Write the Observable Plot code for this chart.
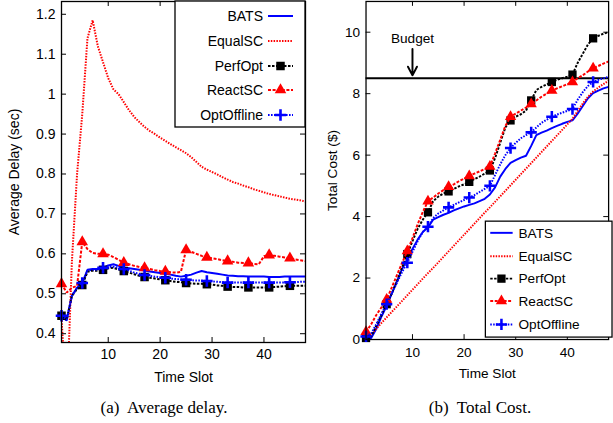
<!DOCTYPE html>
<html><head><meta charset="utf-8">
<script src="https://cdn.jsdelivr.net/npm/d3@7"></script>
<script src="https://cdn.jsdelivr.net/npm/@observablehq/plot@0.6"></script>
<style>
body{margin:0;background:#fff;width:613px;height:423px;overflow:hidden;position:relative;font-family:"Liberation Sans",Arial,sans-serif}
#a,#b{position:absolute;top:0}
#a{left:0}#b{left:310px}
.cap{position:absolute;top:397px;line-height:22px;font-family:"Liberation Serif","Times New Roman",serif;font-size:17px;white-space:pre;transform:translateX(-50%)}
</style></head><body>
<div id="a"></div><div id="b"></div>
<div class="cap" style="left:164px">(a)  Average delay.</div>
<div class="cap" style="left:480px">(b)  Total Cost.</div>
<script>
const slots = [1,2,3,4,5,6,7,8,9,10,11,12,13,14,15,16,17,18,19,20,21,22,23,24,25,26,27,28,29,30,31,32,33,34,35,36,37,38,39,40,41,42,43,44,45,46,47,48];
const series = ["BATS","EqualSC","PerfOpt","ReactSC","OptOffline"];

// (a) Average delay (sec)
const delayBATS = [0.443,0.433,0.495,0.515,0.527,0.56,0.562,0.562,0.565,0.571,0.574,0.57,0.566,0.564,0.562,0.56,0.558,0.556,0.554,0.552,0.55,0.548,0.545,0.543,0.545,0.548,0.553,0.557,0.554,0.552,0.55,0.548,0.546,0.545,0.544,0.544,0.543,0.543,0.543,0.543,0.542,0.542,0.542,0.543,0.543,0.543,0.543,0.543];
const delayEqualSC = [0.44,0.22,0.58,0.8,0.95,1.14,1.185,1.12,1.08,1.04,1.012,1.0,0.98,0.96,0.943,0.93,0.918,0.908,0.9,0.891,0.883,0.875,0.867,0.86,0.852,0.842,0.83,0.818,0.811,0.805,0.799,0.792,0.786,0.78,0.776,0.771,0.767,0.762,0.758,0.754,0.75,0.747,0.744,0.741,0.738,0.736,0.734,0.731];
const delayPerfOpt = [0.445,0.435,0.495,0.512,0.522,0.555,0.558,0.558,0.56,0.564,0.565,0.561,0.557,0.553,0.549,0.545,0.542,0.54,0.538,0.536,0.534,0.532,0.53,0.529,0.527,0.526,0.525,0.525,0.524,0.523,0.521,0.52,0.518,0.517,0.517,0.516,0.516,0.516,0.516,0.516,0.516,0.517,0.518,0.519,0.52,0.52,0.52,0.52];
const delayReactSC = [0.525,0.503,0.515,0.52,0.63,0.612,0.602,0.6,0.6,0.598,0.592,0.585,0.578,0.574,0.57,0.567,0.565,0.562,0.559,0.557,0.556,0.554,0.553,0.555,0.61,0.605,0.6,0.595,0.591,0.589,0.587,0.584,0.582,0.58,0.578,0.577,0.577,0.575,0.574,0.594,0.597,0.595,0.593,0.591,0.589,0.586,0.584,0.582];
const delayOptOffline = [0.445,0.435,0.495,0.515,0.527,0.558,0.56,0.56,0.565,0.568,0.568,0.565,0.562,0.558,0.553,0.55,0.547,0.545,0.543,0.541,0.54,0.538,0.537,0.536,0.535,0.534,0.533,0.533,0.532,0.531,0.53,0.529,0.528,0.528,0.528,0.528,0.528,0.528,0.528,0.528,0.528,0.528,0.528,0.528,0.529,0.529,0.53,0.53];

// (b) Total cost ($)
const costBATS = [0.0,0.05,0.35,0.75,1.1,1.5,1.9,2.3,2.62,2.95,3.25,3.5,3.65,3.9,3.98,4.06,4.12,4.2,4.27,4.33,4.38,4.43,4.5,4.58,4.72,4.95,5.3,5.55,5.75,5.84,5.92,5.98,6.3,6.65,6.73,6.8,6.88,6.95,7.02,7.08,7.13,7.35,7.6,7.85,8.02,8.1,8.17,8.22];
const costEqualSC = [0.0,0.17,0.35,0.54,0.72,0.9,1.08,1.26,1.44,1.62,1.8,1.98,2.16,2.33,2.51,2.69,2.87,3.05,3.23,3.41,3.59,3.77,3.95,4.13,4.3,4.48,4.66,4.84,5.02,5.2,5.38,5.56,5.74,5.92,6.1,6.28,6.46,6.64,6.82,7.0,7.18,7.43,7.68,7.9,8.07,8.2,8.31,8.42];
const costPerfOpt = [0.05,0.1,0.45,0.8,1.15,1.5,1.9,2.35,2.78,3.2,3.6,3.9,4.14,4.5,4.65,4.75,4.82,4.9,4.98,5.05,5.13,5.22,5.3,5.4,5.5,5.9,6.4,6.9,7.13,7.25,7.33,7.45,7.78,8.12,8.22,8.3,8.38,8.45,8.5,8.55,8.62,9.0,9.3,9.6,9.8,9.88,9.95,10.0];
const costReactSC = [0.25,0.5,0.8,1.05,1.3,1.7,2.1,2.5,2.88,3.3,3.75,4.15,4.5,4.62,4.75,4.86,4.97,5.05,5.15,5.24,5.32,5.4,5.47,5.55,5.63,6.05,6.5,6.95,7.25,7.35,7.45,7.55,7.66,7.78,7.9,8.0,8.1,8.17,8.24,8.31,8.38,8.5,8.6,8.72,8.83,8.9,8.98,9.05];
const costOptOffline = [0.1,0.2,0.5,0.85,1.15,1.5,1.85,2.2,2.5,2.85,3.2,3.5,3.67,3.95,4.1,4.2,4.3,4.38,4.46,4.54,4.62,4.7,4.8,4.9,5.0,5.35,5.7,6.0,6.23,6.4,6.55,6.65,6.74,6.9,7.05,7.15,7.25,7.32,7.38,7.44,7.5,7.8,8.05,8.25,8.38,8.45,8.5,8.55];

const budget = 8.5;
const budgetNote = [{slot: 10, label: "Budget", labelY: 9.78, arrowTop: 9.45}];

const xTicks = [10,20,30,40];
const delayTicks = [0.4,0.5,0.6,0.7,0.8,0.9,1.0,1.1,1.2];
const costTicks = [0,2,4,6,8,10];

const style = {
  BATS:       {stroke:"#0000ff", dash:null,      symbol:null},
  EqualSC:    {stroke:"#ff0000", dash:"1.5,1.3", symbol:null},
  PerfOpt:    {stroke:"#000000", dash:"2.5,1.5", symbol:"square"},
  ReactSC:    {stroke:"#ff0000", dash:"3,1.6",   symbol:"triangle"},
  OptOffline: {stroke:"#0000ff", dash:"1.6,1.4", symbol:"plus"}
};
const symR = {square: 4.8, triangle: 4.3, plus: 3.8};

function rows(vals){
  return series.flatMap((s,i)=> slots.map((t,j)=>({s, t, v: vals[i][j]})));
}

function seriesMarks(data){
  const marks = [];
  for (const s of series) {
    const st = style[s];
    const d = data.filter(r => r.s === s);
    marks.push(Plot.line(d, {x:"t", y:"v", stroke: st.stroke, strokeWidth: 2, strokeDasharray: st.dash, strokeLinejoin:"miter", strokeLinecap:"butt", clip:true}));
    if (st.symbol) {
      const m = d.filter(r => r.t % 4 === 1);
      if (st.symbol === "plus")
        marks.push(Plot.dot(m, {x:"t", y:"v", symbol:"plus", r: symR.plus, stroke: st.stroke, strokeWidth: 2.6, fill:"none"}));
      else
        marks.push(Plot.dot(m, {x:"t", y:"v", symbol: st.symbol, r: symR[st.symbol], fill: st.stroke, stroke:"none"}));
    }
  }
  return marks;
}

function frameTicks(yTicks, pw, ph){
  return [
    Plot.tickY(yTicks, {y: d=>d, insetRight: pw-5, stroke:"#000"}),
    Plot.tickY(yTicks, {y: d=>d, insetLeft: pw-5, stroke:"#000"}),
    Plot.tickX(xTicks, {x: d=>d, insetTop: ph-5, stroke:"#000"}),
    Plot.tickX(xTicks, {x: d=>d, insetBottom: ph-5, stroke:"#000"})
  ];
}

const dsym = {square: d3.symbolSquare, triangle: d3.symbolTriangle, plus: d3.symbolPlus};
function legend(svg, box, lineX0, lineX1, textX, anchor, ys){
  const g = d3.select(svg).append("g");
  g.append("rect").attr("x", box[0]).attr("y", box[1]).attr("width", box[2]).attr("height", box[3])
    .attr("fill","white").attr("stroke","#000").attr("stroke-width",1.3);
  series.forEach((s,i)=>{
    const st = style[s], y = ys[i];
    g.append("line").attr("x1",lineX0).attr("x2",lineX1).attr("y1",y).attr("y2",y)
      .attr("stroke",st.stroke).attr("stroke-width",2).attr("stroke-dasharray",st.dash);
    if (st.symbol){
      const r = symR[st.symbol];
      const p = g.append("path").attr("transform",`translate(${(lineX0+lineX1)/2},${y})`)
        .attr("d", d3.symbol(dsym[st.symbol], Math.PI*r*r)());
      if (st.symbol==="plus") p.attr("fill","none").attr("stroke",st.stroke).attr("stroke-width",2.6);
      else p.attr("fill",st.stroke);
    }
    g.append("text").attr("x",textX).attr("y",y).attr("dy","0.35em").attr("text-anchor",anchor)
      .attr("font-size",14).attr("fill","#000").text(s);
  });
}

const font = {fontFamily:'"Liberation Sans", Arial, sans-serif', fontSize:"14px", background:"transparent", overflow:"visible"};

// Panel (a)
{
  const W=310,H=390,ml=61,mr=5,mt=1,mb=48;
  const pw=W-ml-mr, ph=H-mt-mb;
  const p = Plot.plot({
    width:W, height:H, marginLeft:ml, marginRight:mr, marginTop:mt, marginBottom:mb,
    style: font,
    x:{domain:[1,48]}, y:{domain:[0.378,1.232]},
    marks:[
      Plot.axisX(xTicks,{tickSize:0, tickPadding:7, fontSize:14, label:null}),
      Plot.axisY(delayTicks,{tickSize:0, tickPadding:6, fontSize:14, label:null, tickFormat:d=>String(+d.toFixed(1))}),
      ...seriesMarks(rows([delayBATS,delayEqualSC,delayPerfOpt,delayReactSC,delayOptOffline])),
      ...frameTicks(delayTicks,pw,ph),
      Plot.frame({stroke:"#000", strokeWidth:1.3}),
      Plot.text(["Average Delay (sec)"],{frameAnchor:"left", dx:-47, rotate:-90, textAnchor:"middle", lineAnchor:"middle", fontSize:14}),
      Plot.text(["Time Slot"],{frameAnchor:"bottom", dy:35, textAnchor:"middle", lineAnchor:"middle", fontSize:14})
    ]
  });
  document.getElementById("a").append(p);
  legend(p, [175,1,130,126], 268, 293, 263, "end", [16,41,66,90,115]);
}

// Panel (b)
{
  const W=311,H=390,ml=57,mr=5,mt=1,mb=42;
  const pw=W-ml-mr, ph=H-mt-mb;
  const p = Plot.plot({
    width:W, height:H, marginLeft:ml, marginRight:mr, marginTop:mt, marginBottom:mb,
    style: font,
    x:{domain:[1,48]}, y:{domain:[0,11]},
    marks:[
      Plot.axisX(xTicks,{tickSize:0, tickPadding:8, fontSize:14, label:null}),
      Plot.axisY(costTicks,{tickSize:0, tickPadding:6, fontSize:14, label:null}),
      Plot.ruleY([budget],{stroke:"#000", strokeWidth:2}),
      ...seriesMarks(rows([costBATS,costEqualSC,costPerfOpt,costReactSC,costOptOffline])),
      Plot.text(budgetNote,{x:"slot", y:"labelY", text:"label", fontSize:14}),
      Plot.arrow(budgetNote,{x1:"slot", x2:"slot", y1:"arrowTop", y2:()=>budget, stroke:"#000", strokeWidth:2, headLength:9, headAngle:55, insetEnd:3}),
      ...frameTicks(costTicks,pw,ph),
      Plot.frame({stroke:"#000", strokeWidth:1.3}),
      Plot.text(["Total Cost ($)"],{frameAnchor:"left", dx:-34, rotate:-90, textAnchor:"middle", lineAnchor:"middle", fontSize:14}),
      Plot.text(["Time Slot"],{frameAnchor:"bottom", dy:35, textAnchor:"middle", lineAnchor:"middle", fontSize:14})
    ]
  });
  document.getElementById("b").append(p);
  legend(p, [180,227,130,119], 185, 208, 214, "start", [239,263,286,309,333]);
}
</script>
</body></html>
